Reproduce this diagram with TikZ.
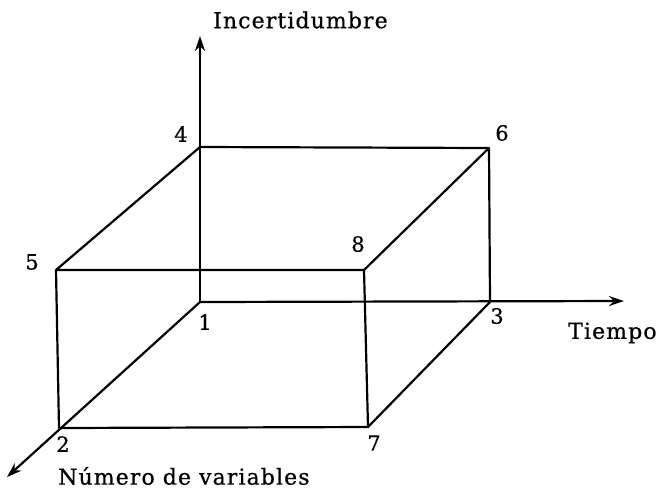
\documentclass[tikz,border=0pt]{standalone}
\usepackage{fontspec}
\setmainfont{DejaVu Serif}
\newfontfamily\labelfont[LetterSpace=5,FakeBold=0.6]{DejaVu Serif}
\newfontfamily\digitfont[FakeBold=0.6]{DejaVu Serif}
\usetikzlibrary{arrows.meta}

\begin{document}
\begin{tikzpicture}[
  x=1pt, y=-1pt,
  edge/.style={line width=2.2pt, line join=round},
  axis/.style={line width=2.2pt, -{Stealth[length=15pt,width=10pt,inset=5pt]}},
  corner/.style={font=\digitfont\fontsize{21}{24}\selectfont, inner sep=0pt},
  axislabel/.style={font=\labelfont\fontsize{22}{26}\selectfont, inner sep=0pt, anchor=west}
]
  \useasboundingbox (0,0) rectangle (660,493);
  % corners of the box
  \coordinate (v1) at (200,302);
  \coordinate (v2) at (59,428);
  \coordinate (v3) at (490,302);
  \coordinate (v4) at (200,147);
  \coordinate (v5) at (56,270);
  \coordinate (v6) at (489,148);
  \coordinate (v7) at (368,427);
  \coordinate (v8) at (364,270);
  % axis ends
  \coordinate (tEnd) at (624,301);
  \coordinate (iEnd) at (200,36);
  \coordinate (nEnd) at (7,477);

  % axes
  \draw[axis] (v1) -- (iEnd);
  \draw[axis] (v1) -- (tEnd);
  \draw[axis] (v1) -- (nEnd);

  % box
  \draw[edge] (v4) -- (v6) -- (v3);
  \draw[edge] (v4) -- (v5) -- (v8) -- (v6);
  \draw[edge] (v5) -- (v2) -- (v7) -- (v8);
  \draw[edge] (v7) -- (v3);

  % labels
  \node[corner] (l1) at (205,322) {1};
  \node[corner] (l2) at (63,444) {2};
  \node[corner] (l3) at (497,316) {3};
  \node[corner] (l4) at (181,134) {4};
  \node[corner] (l5) at (32,262) {5};
  \node[corner] (l6) at (502,133) {6};
  \node[corner] (l7) at (374,443) {7};
  \node[corner] (l8) at (358,244) {8};
  \node[axislabel] (incert) at (213,20) {Incertidumbre};
  \node[axislabel] (tiempo) at (568,333) {Tiempo};
  \node[axislabel] (numvar) at (58,476) {Número de variables};
\end{tikzpicture}
\end{document}
